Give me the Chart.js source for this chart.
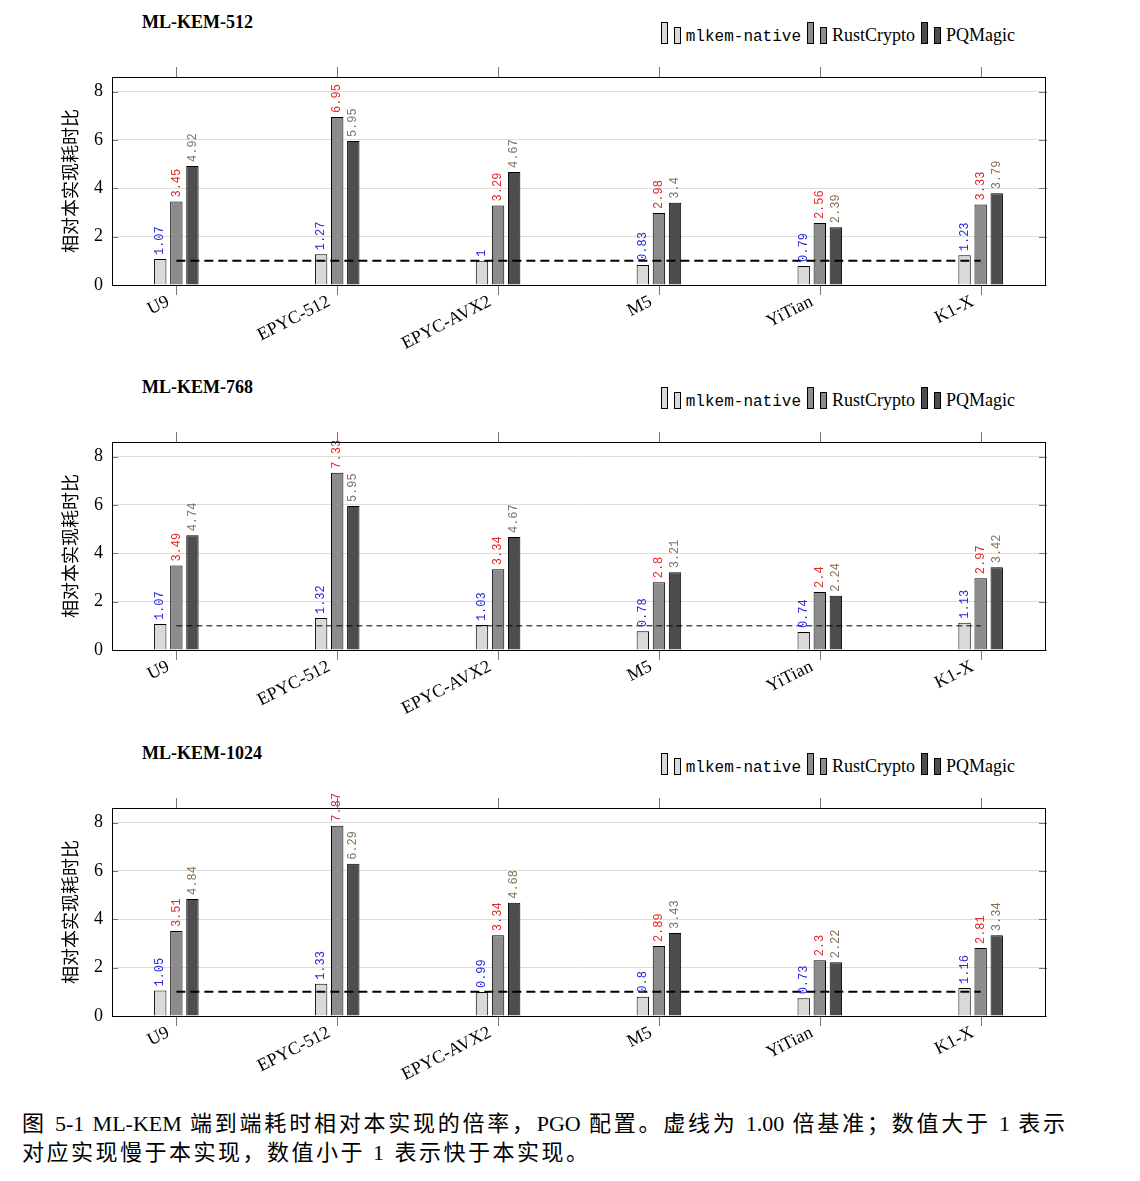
<!DOCTYPE html>
<html>
<head>
<meta charset="utf-8">
<script src="https://cdn.jsdelivr.net/npm/chart.js@4/dist/chart.umd.min.js"></script>
<style>
  body { margin: 0; background: #fff; width: 1140px; height: 1181px; position: relative; overflow: hidden; }
  .title { position: absolute; left: 142px; font: bold 18px "Liberation Serif", serif; line-height: 18px; }
  .legend { position: absolute; right: 125px; font: 18px "Liberation Serif", serif; line-height: 24px; white-space: nowrap; }
  .legend .g { display: inline-block; width: 7px; border: 1px solid #000; vertical-align: -3px; box-sizing: border-box; }
  .legend .mono { font-family: "Liberation Mono", monospace; font-size: 16px; }
  .legend .item { margin-right: 6px; }
  .legend .item:last-child { margin-right: 0; }
  canvas { position: absolute; left: 0; }
  .caption { position: absolute; left: 22px; width: 1043px; font: 22px "Liberation Serif", "Noto Sans CJK SC", serif; line-height: 29px; }
  .caption .l1 { text-align: justify; text-align-last: justify; }
  .caption .l2 { letter-spacing: 2.5px; }
</style>
</head>
<body>
<div class="caption" style="top:1109px">
  <div class="l1">图 5-1 ML-KEM 端到端耗时相对本实现的倍率，PGO 配置。虚线为 1.00 倍基准；数值大于 1 表示</div>
  <div class="l2">对应实现慢于本实现，数值小于 1 表示快于本实现。</div>
</div>
<script>
const categories = ['U9', 'EPYC-512', 'EPYC-AVX2', 'M5', 'YiTian', 'K1-X'];
const seriesNames = ['mlkem-native', 'RustCrypto', 'PQMagic'];
const yTicks = [0, 2, 4, 6, 8];
const baseline = 1;

const titles = ['ML-KEM-512', 'ML-KEM-768', 'ML-KEM-1024'];
const native512 = [1.07, 1.27, 1, 0.83, 0.79, 1.23];
const rust512 = [3.45, 6.95, 3.29, 2.98, 2.56, 3.33];
const pq512 = [4.92, 5.95, 4.67, 3.4, 2.39, 3.79];
const native768 = [1.07, 1.32, 1.03, 0.78, 0.74, 1.13];
const rust768 = [3.49, 7.33, 3.34, 2.8, 2.4, 2.97];
const pq768 = [4.74, 5.95, 4.67, 3.21, 2.24, 3.42];
const native1024 = [1.05, 1.33, 0.99, 0.8, 0.73, 1.16];
const rust1024 = [3.51, 7.87, 3.34, 2.89, 2.3, 2.81];
const pq1024 = [4.84, 6.29, 4.68, 3.43, 2.22, 3.34];

const barColors = ['#d9d9d9', '#8c8c8c', '#4d4d4d'];
const labelColors = ['#2828dc', '#e42828', '#85705a'];

// panel geometry (plot area top in page px)
const plotTops = [77, 442, 808];
const titleTops = [13, 378, 744];
const legendTops = [22, 387, 753];
const padTop = 30, plotH = 208, axisH = 75;

// value labels above bars, rotated
const valueLabels = {
  id: 'valueLabels',
  afterDatasetsDraw(chart) {
    const ctx = chart.ctx;
    ctx.save();
    ctx.font = '12px "Liberation Mono", monospace';
    ctx.textAlign = 'left';
    ctx.textBaseline = 'middle';
    chart.data.datasets.forEach((ds, di) => {
      if (ds.type === 'line') return;
      const meta = chart.getDatasetMeta(di);
      meta.data.forEach((el, i) => {
        ctx.save();
        ctx.translate(el.x, el.y - 4);
        ctx.rotate(-Math.PI / 2);
        ctx.fillStyle = ds.labelColor;
        ctx.fillText(String(ds.data[i].y), 0, 0);
        ctx.restore();
      });
    });
    ctx.restore();
  }
};

// box and tick marks like pgfplots
const frame = {
  id: 'frame',
  afterDraw(chart) {
    const {ctx, chartArea: a, scales: {x, y}} = chart;
    ctx.save();
    ctx.strokeStyle = '#777';
    ctx.lineWidth = 1;
    ctx.beginPath();
    categories.forEach((c, i) => {
      const px = Math.round(x.getPixelForValue(i)) + 0.5;
      ctx.moveTo(px, a.top - 10); ctx.lineTo(px, a.top);
      ctx.moveTo(px, a.bottom); ctx.lineTo(px, a.bottom + 10);
    });
    yTicks.forEach(t => {
      const py = Math.round(y.getPixelForValue(t)) + 0.5;
      ctx.moveTo(a.left, py); ctx.lineTo(a.left + 6, py);
      ctx.moveTo(a.right - 6, py); ctx.lineTo(a.right + 2, py);
    });
    ctx.stroke();
    ctx.strokeStyle = '#000';
    ctx.strokeRect(Math.round(a.left) + 0.5, Math.round(a.top) + 0.5, Math.round(a.right - a.left), Math.round(a.bottom - a.top));
    ctx.restore();
  }
};

function makeLegend(top) {
  const div = document.createElement('div');
  div.className = 'legend';
  div.style.top = top + 'px';
  div.innerHTML = seriesNames.map((n, i) =>
    `<span class="item"><span class="g" style="height:22px;background:${barColors[i]}"></span>` +
    `<span class="g" style="height:17px;margin-left:6px;margin-right:5px;background:${barColors[i]}"></span>` +
    `<span class="${i === 0 ? 'mono' : ''}">${n}</span></span>`).join('');
  document.body.appendChild(div);
}

function makePanel(p, series, thinDash) {
  const t = document.createElement('div');
  t.className = 'title';
  t.style.top = titleTops[p] + 'px';
  t.textContent = titles[p];
  document.body.appendChild(t);
  makeLegend(legendTops[p]);

  const cv = document.createElement('canvas');
  cv.width = 1140;
  cv.height = padTop + plotH + axisH;
  cv.style.top = (plotTops[p] - padTop) + 'px';
  document.body.appendChild(cv);

  const datasets = [{
    type: 'line',
    data: [{x: 0, y: baseline}, {x: categories.length - 1, y: baseline}],
    borderColor: '#000',
    borderWidth: thinDash ? 1 : 2,
    borderDash: thinDash ? [6, 4] : [9, 5],
    pointRadius: 0,
    order: 0
  }];
  series.forEach((vals, si) => {
    datasets.push({
      type: 'bar',
      label: seriesNames[si],
      data: vals.map((v, i) => ({x: i, y: v})),
      backgroundColor: barColors[si],
      borderColor: '#000',
      borderWidth: 1,
      categoryPercentage: 0.3,
      barPercentage: 0.77,
      labelColor: labelColors[si],
      order: 1
    });
  });

  new Chart(cv, {
    type: 'bar',
    data: {datasets},
    options: {
      responsive: false,
      animation: false,
      layout: {padding: {top: padTop, right: 95, left: 0, bottom: 0}},
      plugins: {legend: {display: false}, tooltip: {enabled: false}},
      scales: {
        x: {
          type: 'linear',
          offset: false,
          min: -0.4,
          max: categories.length - 0.6,
          afterBuildTicks: s => { s.ticks = categories.map((c, i) => ({value: i})); },
          afterFit: s => { s.height = axisH; },
          grid: {display: false},
          border: {display: false},
          ticks: {
            autoSkip: false,
            minRotation: 27,
            maxRotation: 27,
            padding: -2,
            labelOffset: -8,
            color: '#000',
            font: {family: '"Liberation Serif", serif', size: 18},
            callback: v => categories[v]
          }
        },
        y: {
          min: 0,
          max: 8.6,
          afterBuildTicks: s => { s.ticks = yTicks.map(v => ({value: v})); },
          afterFit: s => { s.width = 112; },
          grid: {color: '#dcdcdc', drawTicks: false},
          border: {display: false},
          ticks: {
            padding: 9,
            color: '#000',
            font: {family: '"Liberation Serif", serif', size: 18}
          },
          title: {
            display: true,
            text: '相对本实现耗时比',
            color: '#000',
            font: {family: '"Noto Sans CJK SC", sans-serif', size: 18},
            padding: {top: 59, bottom: 0}
          }
        }
      }
    },
    plugins: [valueLabels, frame]
  });
}

makePanel(0, [native512, rust512, pq512], false);
makePanel(1, [native768, rust768, pq768], true);
makePanel(2, [native1024, rust1024, pq1024], false);
</script>
</body>
</html>
